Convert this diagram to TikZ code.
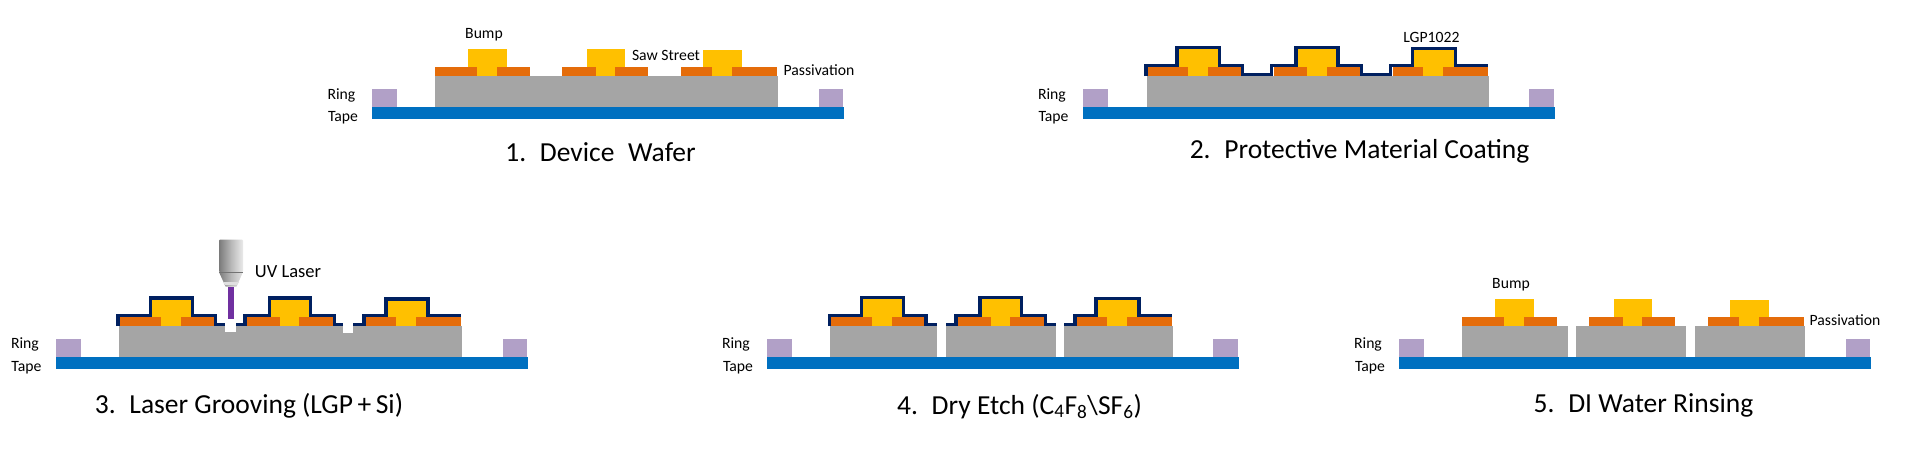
\documentclass[tikz,border=0pt]{standalone}
\usepackage{fontspec}
\setmainfont{Carlito}
\definecolor{tapeblue}{HTML}{0070C0}
\definecolor{ringpurple}{HTML}{B1A0C7}
\definecolor{wafergray}{HTML}{A5A5A5}
\definecolor{passorange}{HTML}{E46C0A}
\definecolor{bumpyellow}{HTML}{FFC000}
\definecolor{coatnavy}{HTML}{002060}
\definecolor{beampurple}{HTML}{7030A0}
\tikzset{
  tapefill/.style={fill=tapeblue},
  ringfill/.style={fill=ringpurple},
  waferfill/.style={fill=wafergray},
  passfill/.style={fill=passorange},
  bumpfill/.style={fill=bumpyellow},
  coatline/.style={draw=coatnavy,line width=3.4pt,miter limit=10},
  lbl/.style={inner sep=0pt,yshift=-1.5pt,font=\fontsize{15.7}{17}\selectfont,text=black},
  ttl/.style={inner sep=0pt,yshift=-1.5pt,font=\fontsize{27.5}{30}\selectfont,text=black},
}
% tape x1 x2, ring1 x1 x2, ring2 x1 x2, tape top
\newcommand{\tapering}[7]{%
  \fill[tapefill] (#1,#7) rectangle (#2,#7+11.7);
  \fill[ringfill] (#3,#7-18) rectangle (#4,#7);
  \fill[ringfill] (#5,#7-18) rectangle (#6,#7);
}
% left stemL stemR right bumpL bumpR bumpTop passTop waferTop
\newcommand{\unitcell}[9]{%
  \fill[passfill] (#1,#8) rectangle (#2,#9);
  \fill[passfill] (#3,#8) rectangle (#4,#9);
  \fill[bumpfill] (#5,#7) rectangle (#6,#8);
  \fill[bumpfill] (#2,#8) rectangle (#3,#9);
}
\begin{document}
\begin{tikzpicture}[x=1pt,y=-1pt]
\useasboundingbox (0,0) rectangle (1931,453);
\fill[white] (0,0) rectangle (1931,453);

% ---------- Panel 1
\tapering{372}{844}{372}{397}{819}{843}{107}
\fill[waferfill] (435,76) rectangle (778,107);
\unitcell{435}{477}{497}{530}{468}{507}{49}{67}{76}
\unitcell{562}{596}{615}{648}{587}{625}{49}{67}{76}
\unitcell{681}{712}{732}{777}{703}{742}{50}{67}{76}
\node[lbl] (p1bump) at (484,33) {Bump};
\node[lbl] (p1saw) at (666,54) {Saw Street};
\node[lbl] (p1pass) at (819,69) {Passivation};
\node[lbl] (p1ring) at (341.5,93.5) {Ring};
\node[lbl] (p1tape) at (343,116.5) {Tape};
\node[ttl] (p1title) at (600.5,151) {1.\hspace{.5em}Device\hspace{.5em}Wafer};

% ---------- Panel 2
\tapering{1083}{1555}{1083}{1108}{1529}{1554}{107}
\fill[waferfill] (1146.5,76) rectangle (1489,107);
\unitcell{1146.5}{1188}{1208}{1241.5}{1178}{1218}{49}{67}{76}
\unitcell{1274}{1307}{1326.5}{1360}{1298}{1336}{49}{67}{76}
\unitcell{1393}{1423}{1443}{1488}{1414}{1454}{50}{67}{76}
\draw[coatline] (1146,76) -- (1146,65.2) -- (1177,65.2) -- (1177,47.5) -- (1219.5,47.5) -- (1219.5,65.2)
  -- (1242.5,65.2) -- (1242.5,74.2) -- (1271.5,74.2) -- (1271.5,65.2) -- (1296,65.2) -- (1296,47.5)
  -- (1338,47.5) -- (1338,65.2) -- (1361.5,65.2) -- (1361.5,74.2) -- (1390.5,74.2) -- (1390.5,65.2)
  -- (1412.5,65.2) -- (1412.5,48.5) -- (1455.5,48.5) -- (1455.5,65.2) -- (1488,65.2);
\node[lbl] (p2lgp) at (1431.5,35.5) {LGP1022};
\node[lbl] (p2ring) at (1052,93.5) {Ring};
\node[lbl] (p2tape) at (1053.5,116.5) {Tape};
\node[ttl] (p2title) at (1359.5,150) {2.\hspace{.5em}Protective Material Coating};

% ---------- Panel 3
\tapering{56}{528}{56}{81}{503}{527}{357}
\fill[waferfill] (118.5,326) rectangle (462,357);
\unitcell{118.5}{161}{181}{214}{152}{191}{299.3}{317}{326}
\unitcell{247}{280}{299}{333}{271}{309}{299.3}{317}{326}
\unitcell{366}{396}{416}{461}{387.5}{426}{300}{317}{326}
\draw[coatline] (118,326) -- (118,315.2) -- (150.5,315.2) -- (150.5,297.8) -- (192.5,297.8) -- (192.5,315.2)
  -- (215.5,315.2) -- (215.5,324.2) -- (225,324.2);
\draw[coatline] (236,324.2) -- (245,324.2) -- (245,315.2) -- (269.5,315.2) -- (269.5,297.8) -- (310.5,297.8)
  -- (310.5,315.2) -- (334.5,315.2) -- (334.5,324.2) -- (343,324.2);
\draw[coatline] (353,324.2) -- (364,324.2) -- (364,315.2) -- (386,315.2) -- (386,298.8) -- (428,298.8)
  -- (428,315.2) -- (461,315.2);
\fill[white] (225,320) rectangle (236,332);
\fill[white] (343,320) rectangle (353,332.5);
% laser head
\fill[beampurple] (228,286.5) rectangle (234,318.5);
\path[left color=black!52,right color=black!8,middle color=black!28,rounded corners=1pt]
  (219,239.5) -- (243,239.5) -- (243,272) -- (219,272) -- cycle;
\path[left color=black!52,right color=black!10,middle color=black!28]
  (219,272) -- (243,272) -- (236.5,286.5) -- (225.5,286.5) -- cycle;
\fill[black!12] (222.8,282) -- (239.2,282) -- (237,285) -- (225,285) -- cycle;
\draw[black!55,line width=.6pt] (219,272) -- (243,272);
\node[lbl,font=\fontsize{18.5}{20}\selectfont] (p3uv) at (288,270.5) {UV Laser};
\node[lbl] (p3ring) at (25,343) {Ring};
\node[lbl] (p3tape) at (26.5,366) {Tape};
\node[ttl] (p3title) at (249,404) {3.\hspace{.5em}Laser Grooving (LGP\,+\,Si)};

% ---------- Panel 4
\tapering{767}{1239}{767}{792}{1213}{1238}{357}
\fill[waferfill] (830,326) rectangle (937,357);
\fill[waferfill] (946,326) rectangle (1056,357);
\fill[waferfill] (1064,326) rectangle (1173,357);
\unitcell{830}{872}{892}{925}{863}{902}{299}{317}{326}
\unitcell{958}{991}{1010}{1044}{982}{1020}{299}{317}{326}
\unitcell{1077}{1107}{1127}{1172}{1097.6}{1137}{300}{317}{326}
\draw[coatline] (829.5,326) -- (829.5,315.2) -- (861.5,315.2) -- (861.5,297.6) -- (903.5,297.6) -- (903.5,315.2)
  -- (926,315.2) -- (926,324.2) -- (937,324.2);
\draw[coatline] (946,324.2) -- (956,324.2) -- (956,315.2) -- (980,315.2) -- (980,297.6) -- (1021.5,297.6)
  -- (1021.5,315.2) -- (1045.5,315.2) -- (1045.5,324.2) -- (1056,324.2);
\draw[coatline] (1064,324.2) -- (1075,324.2) -- (1075,315.2) -- (1096,315.2) -- (1096,298.6) -- (1139,298.6)
  -- (1139,315.2) -- (1172,315.2);
\node[lbl] (p4ring) at (736,343) {Ring};
\node[lbl] (p4tape) at (738,366) {Tape};
\node[ttl] (p4title) at (1019.5,405) {4.\hspace{.5em}Dry Etch (C\textsubscript{4}F\textsubscript{8}\textbackslash SF\textsubscript{6})};

% ---------- Panel 5
\tapering{1399}{1871}{1399}{1424}{1846}{1870}{357}
\fill[waferfill] (1462,326) rectangle (1568,357);
\fill[waferfill] (1576,326) rectangle (1686,357);
\fill[waferfill] (1695,326) rectangle (1805,357);
\unitcell{1462}{1504}{1524}{1557}{1495}{1534}{299}{317}{326}
\unitcell{1589}{1623}{1642}{1675}{1614}{1652}{299}{317}{326}
\unitcell{1708}{1739}{1759}{1804}{1730}{1769}{300}{317}{326}
\node[lbl] (p5bump) at (1511,283) {Bump};
\node[lbl] (p5pass) at (1845,319) {Passivation};
\node[lbl] (p5ring) at (1368,343) {Ring};
\node[lbl] (p5tape) at (1370,366) {Tape};
\node[ttl] (p5title) at (1643.5,404) {5.\hspace{.5em}DI Water Rinsing};
\end{tikzpicture}
\end{document}
